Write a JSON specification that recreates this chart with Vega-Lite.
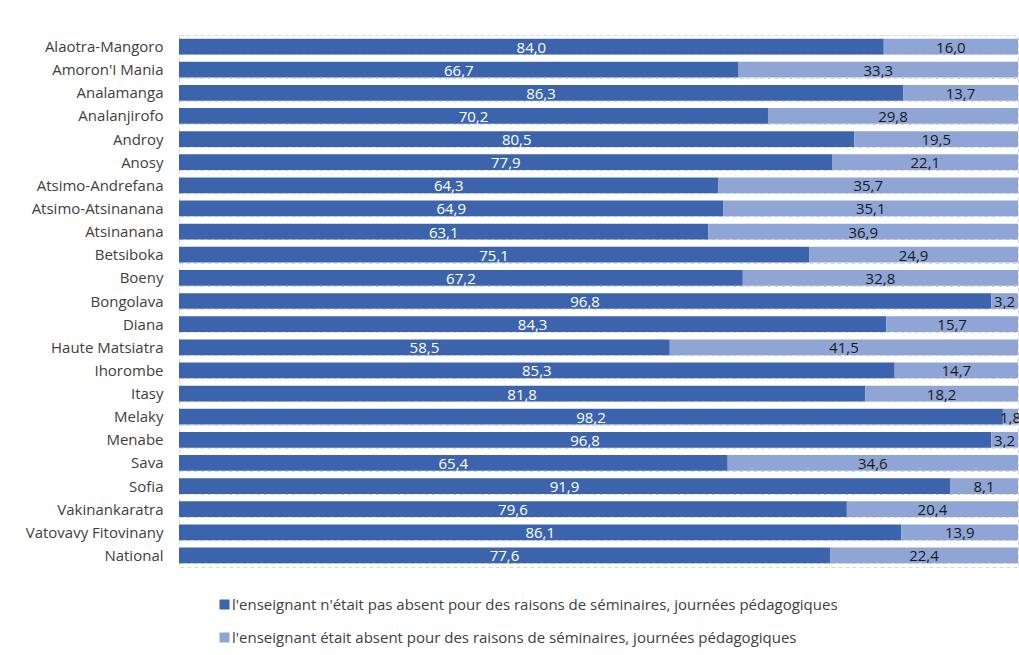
{
  "$schema": "https://vega.github.io/schema/vega-lite/v6.json",
  "width": 839,
  "height": 532,
  "autosize": {"type": "none"},
  "padding": {"left": 179, "top": 35, "right": 1, "bottom": 88},
  "background": "white",
  "config": {
    "locale": {"number": {"decimal": ",", "thousands": " ", "grouping": [3], "currency": ["", " €"]}},
    "view": {"stroke": "#d9d9d9", "strokeDash": [4, 3], "strokeWidth": 1},
    "font": "Open Sans"
  },
  "data": {
    "values": [
      {"region": "Alaotra-Mangoro", "statut": "l'enseignant n'était pas absent pour des raisons de séminaires, journées pédagogiques", "ordre": 1, "pct": 84.0},
      {"region": "Alaotra-Mangoro", "statut": "l'enseignant était absent pour des raisons de séminaires, journées pédagogiques", "ordre": 2, "pct": 16.0},
      {"region": "Amoron'I Mania", "statut": "l'enseignant n'était pas absent pour des raisons de séminaires, journées pédagogiques", "ordre": 1, "pct": 66.7},
      {"region": "Amoron'I Mania", "statut": "l'enseignant était absent pour des raisons de séminaires, journées pédagogiques", "ordre": 2, "pct": 33.3},
      {"region": "Analamanga", "statut": "l'enseignant n'était pas absent pour des raisons de séminaires, journées pédagogiques", "ordre": 1, "pct": 86.3},
      {"region": "Analamanga", "statut": "l'enseignant était absent pour des raisons de séminaires, journées pédagogiques", "ordre": 2, "pct": 13.7},
      {"region": "Analanjirofo", "statut": "l'enseignant n'était pas absent pour des raisons de séminaires, journées pédagogiques", "ordre": 1, "pct": 70.2},
      {"region": "Analanjirofo", "statut": "l'enseignant était absent pour des raisons de séminaires, journées pédagogiques", "ordre": 2, "pct": 29.8},
      {"region": "Androy", "statut": "l'enseignant n'était pas absent pour des raisons de séminaires, journées pédagogiques", "ordre": 1, "pct": 80.5},
      {"region": "Androy", "statut": "l'enseignant était absent pour des raisons de séminaires, journées pédagogiques", "ordre": 2, "pct": 19.5},
      {"region": "Anosy", "statut": "l'enseignant n'était pas absent pour des raisons de séminaires, journées pédagogiques", "ordre": 1, "pct": 77.9},
      {"region": "Anosy", "statut": "l'enseignant était absent pour des raisons de séminaires, journées pédagogiques", "ordre": 2, "pct": 22.1},
      {"region": "Atsimo-Andrefana", "statut": "l'enseignant n'était pas absent pour des raisons de séminaires, journées pédagogiques", "ordre": 1, "pct": 64.3},
      {"region": "Atsimo-Andrefana", "statut": "l'enseignant était absent pour des raisons de séminaires, journées pédagogiques", "ordre": 2, "pct": 35.7},
      {"region": "Atsimo-Atsinanana", "statut": "l'enseignant n'était pas absent pour des raisons de séminaires, journées pédagogiques", "ordre": 1, "pct": 64.9},
      {"region": "Atsimo-Atsinanana", "statut": "l'enseignant était absent pour des raisons de séminaires, journées pédagogiques", "ordre": 2, "pct": 35.1},
      {"region": "Atsinanana", "statut": "l'enseignant n'était pas absent pour des raisons de séminaires, journées pédagogiques", "ordre": 1, "pct": 63.1},
      {"region": "Atsinanana", "statut": "l'enseignant était absent pour des raisons de séminaires, journées pédagogiques", "ordre": 2, "pct": 36.9},
      {"region": "Betsiboka", "statut": "l'enseignant n'était pas absent pour des raisons de séminaires, journées pédagogiques", "ordre": 1, "pct": 75.1},
      {"region": "Betsiboka", "statut": "l'enseignant était absent pour des raisons de séminaires, journées pédagogiques", "ordre": 2, "pct": 24.9},
      {"region": "Boeny", "statut": "l'enseignant n'était pas absent pour des raisons de séminaires, journées pédagogiques", "ordre": 1, "pct": 67.2},
      {"region": "Boeny", "statut": "l'enseignant était absent pour des raisons de séminaires, journées pédagogiques", "ordre": 2, "pct": 32.8},
      {"region": "Bongolava", "statut": "l'enseignant n'était pas absent pour des raisons de séminaires, journées pédagogiques", "ordre": 1, "pct": 96.8},
      {"region": "Bongolava", "statut": "l'enseignant était absent pour des raisons de séminaires, journées pédagogiques", "ordre": 2, "pct": 3.2},
      {"region": "Diana", "statut": "l'enseignant n'était pas absent pour des raisons de séminaires, journées pédagogiques", "ordre": 1, "pct": 84.3},
      {"region": "Diana", "statut": "l'enseignant était absent pour des raisons de séminaires, journées pédagogiques", "ordre": 2, "pct": 15.7},
      {"region": "Haute Matsiatra", "statut": "l'enseignant n'était pas absent pour des raisons de séminaires, journées pédagogiques", "ordre": 1, "pct": 58.5},
      {"region": "Haute Matsiatra", "statut": "l'enseignant était absent pour des raisons de séminaires, journées pédagogiques", "ordre": 2, "pct": 41.5},
      {"region": "Ihorombe", "statut": "l'enseignant n'était pas absent pour des raisons de séminaires, journées pédagogiques", "ordre": 1, "pct": 85.3},
      {"region": "Ihorombe", "statut": "l'enseignant était absent pour des raisons de séminaires, journées pédagogiques", "ordre": 2, "pct": 14.7},
      {"region": "Itasy", "statut": "l'enseignant n'était pas absent pour des raisons de séminaires, journées pédagogiques", "ordre": 1, "pct": 81.8},
      {"region": "Itasy", "statut": "l'enseignant était absent pour des raisons de séminaires, journées pédagogiques", "ordre": 2, "pct": 18.2},
      {"region": "Melaky", "statut": "l'enseignant n'était pas absent pour des raisons de séminaires, journées pédagogiques", "ordre": 1, "pct": 98.2},
      {"region": "Melaky", "statut": "l'enseignant était absent pour des raisons de séminaires, journées pédagogiques", "ordre": 2, "pct": 1.8},
      {"region": "Menabe", "statut": "l'enseignant n'était pas absent pour des raisons de séminaires, journées pédagogiques", "ordre": 1, "pct": 96.8},
      {"region": "Menabe", "statut": "l'enseignant était absent pour des raisons de séminaires, journées pédagogiques", "ordre": 2, "pct": 3.2},
      {"region": "Sava", "statut": "l'enseignant n'était pas absent pour des raisons de séminaires, journées pédagogiques", "ordre": 1, "pct": 65.4},
      {"region": "Sava", "statut": "l'enseignant était absent pour des raisons de séminaires, journées pédagogiques", "ordre": 2, "pct": 34.6},
      {"region": "Sofia", "statut": "l'enseignant n'était pas absent pour des raisons de séminaires, journées pédagogiques", "ordre": 1, "pct": 91.9},
      {"region": "Sofia", "statut": "l'enseignant était absent pour des raisons de séminaires, journées pédagogiques", "ordre": 2, "pct": 8.1},
      {"region": "Vakinankaratra", "statut": "l'enseignant n'était pas absent pour des raisons de séminaires, journées pédagogiques", "ordre": 1, "pct": 79.6},
      {"region": "Vakinankaratra", "statut": "l'enseignant était absent pour des raisons de séminaires, journées pédagogiques", "ordre": 2, "pct": 20.4},
      {"region": "Vatovavy Fitovinany", "statut": "l'enseignant n'était pas absent pour des raisons de séminaires, journées pédagogiques", "ordre": 1, "pct": 86.1},
      {"region": "Vatovavy Fitovinany", "statut": "l'enseignant était absent pour des raisons de séminaires, journées pédagogiques", "ordre": 2, "pct": 13.9},
      {"region": "National", "statut": "l'enseignant n'était pas absent pour des raisons de séminaires, journées pédagogiques", "ordre": 1, "pct": 77.6},
      {"region": "National", "statut": "l'enseignant était absent pour des raisons de séminaires, journées pédagogiques", "ordre": 2, "pct": 22.4}
    ]
  },
  "transform": [
    {"stack": "pct", "groupby": ["region"], "sort": [{"field": "ordre", "order": "ascending"}], "as": ["x0", "x1"]},
    {"calculate": "(datum.x0 + datum.x1) / 2", "as": "xm"}
  ],
  "encoding": {
    "y": {
      "field": "region",
      "type": "nominal",
      "sort": null,
      "title": null,
      "scale": {"paddingInner": 0.32, "paddingOuter": 0.16},
      "axis": {
        "domain": false,
        "ticks": false,
        "tickBand": "extent",
        "grid": true,
        "gridColor": "#d9d9d9",
        "gridDash": [4, 3],
        "gridWidth": 1,
        "labelFont": "Open Sans",
        "labelFontSize": 15,
        "labelColor": "#404040",
        "labelPadding": 16,
        "labelLimit": 300
      }
    }
  },
  "layer": [
    {
      "mark": {"type": "bar"},
      "encoding": {
        "x": {"field": "x0", "type": "quantitative", "scale": {"domain": [0, 100]}, "axis": null},
        "x2": {"field": "x1"},
        "color": {
          "field": "statut",
          "type": "nominal",
          "sort": null,
          "scale": {"range": ["#3c64ad", "#8fa5d6"]},
          "legend": {
            "title": null,
            "orient": "none",
            "legendX": 38,
            "legendY": 562,
            "direction": "vertical",
            "symbolType": "square",
            "symbolSize": 100,
            "symbolStrokeWidth": 0,
            "labelFont": "Open Sans",
            "labelFontSize": 15,
            "labelColor": "#404040",
            "labelLimit": 0,
            "labelOffset": 0,
            "rowPadding": 17
          }
        }
      }
    },
    {
      "mark": {"type": "text", "fontSize": 15, "font": "Open Sans", "baseline": "middle", "align": "center", "dy": 1},
      "encoding": {
        "x": {"field": "xm", "type": "quantitative"},
        "text": {"field": "pct", "type": "quantitative", "format": ".1f"},
        "color": {"condition": {"test": "datum.ordre == 1", "value": "#ffffff"}, "value": "#1a1a1a"}
      }
    }
  ]
}
